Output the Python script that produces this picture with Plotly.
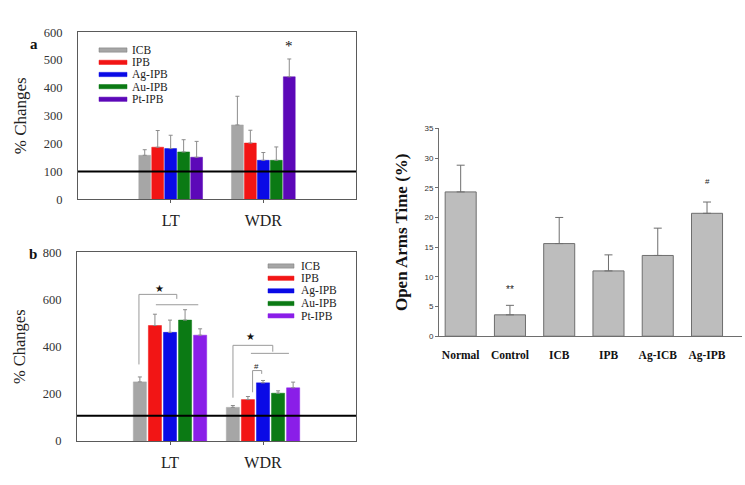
import plotly.graph_objects as go

W, H = 745, 485

# ---------------- data ----------------
groups = ["LT", "WDR"]
series = ["ICB", "IPB", "Ag-IPB", "Au-IPB", "Pt-IPB"]

# panel a (% changes)
a_ICB = [158, 267]
a_IPB = [187, 202]
a_Ag = [182, 140]
a_Au = [170, 140]
a_Pt = [151, 440]
a_ICB_err = [20, 103]
a_IPB_err = [60, 46]
a_Ag_err = [48, 28]
a_Au_err = [44, 48]
a_Pt_err = [57, 64]

# panel b (% changes)
b_ICB = [251, 143]
b_IPB = [490, 176]
b_Ag = [461, 247]
b_Au = [513, 203]
b_Pt = [449, 226]
b_ICB_err = [21, 8]
b_IPB_err = [48, 13]
b_Ag_err = [52, 10]
b_Au_err = [44, 10]
b_Pt_err = [27, 24]

# panel c (open arms time %)
c_groups = ["Normal", "Control", "ICB", "IPB", "Ag-ICB", "Ag-IPB"]
c_values = [24.3, 3.6, 15.6, 11.0, 13.6, 20.7]
c_errors = [4.5, 1.6, 4.4, 2.7, 4.6, 1.9]

a_ref = 100
b_ref = 107

# ---------------- styles ----------------
SERIF = "Liberation Serif"
SANS = "Liberation Sans"
cols_a = ["#a6a6a6", "#f21515", "#0a0ae6", "#0b7a14", "#5c08b8"]
cols_b = ["#a6a6a6", "#f21515", "#0a0ae6", "#0b7a14", "#8a1ee8"]


def px(x):
    return x / W


def py(y):
    return 1 - y / H


fig = go.Figure()

a_vals = [a_ICB, a_IPB, a_Ag, a_Au, a_Pt]
a_errs = [a_ICB_err, a_IPB_err, a_Ag_err, a_Au_err, a_Pt_err]
b_vals = [b_ICB, b_IPB, b_Ag, b_Au, b_Pt]
b_errs = [b_ICB_err, b_IPB_err, b_Ag_err, b_Au_err, b_Pt_err]

pitch_a, width_a = 0.14, 0.128
pitch_b, width_b = 0.162, 0.141

for i, name in enumerate(series):
    fig.add_trace(go.Bar(
        x=groups, y=a_vals[i], name=name, xaxis="x", yaxis="y",
        width=width_a, offset=(i - 2) * pitch_a - width_a / 2,
        marker=dict(color=cols_a[i], line=dict(color=cols_a[i], width=0.5)),
        error_y=dict(type="data", array=a_errs[i], arrayminus=[0, 0], symmetric=False,
                     color="#8c8c8c", thickness=1, width=2),
        showlegend=False))
    fig.add_trace(go.Bar(
        x=groups, y=b_vals[i], name=name, xaxis="x2", yaxis="y2",
        width=width_b, offset=(i - 2) * pitch_b - width_b / 2,
        marker=dict(color=cols_b[i], line=dict(color=cols_b[i], width=0.5)),
        error_y=dict(type="data", array=b_errs[i], arrayminus=[0, 0], symmetric=False,
                     color="#8c8c8c", thickness=1, width=2),
        showlegend=False))

fig.add_trace(go.Bar(
    x=c_groups, y=c_values, xaxis="x3", yaxis="y3", width=0.63, offset=-0.315,
    marker=dict(color="#bdbdbd", line=dict(color="#6e6e6e", width=1)),
    error_y=dict(type="data", array=c_errors, arrayminus=[0] * len(c_errors), symmetric=False,
                 color="#6e6e6e", thickness=1, width=4),
    showlegend=False))

frame_col = "#5a5a5a"
common_x = dict(type="category", range=[-1, 2], showline=True, mirror=True, linecolor=frame_col,
                linewidth=1, ticks="outside", ticklen=3, tickcolor=frame_col,
                tickfont=dict(family=SERIF, size=16, color="#222"), showgrid=False, zeroline=False,
                ticklabelstandoff=4)
common_y = dict(showline=True, mirror=True, linecolor=frame_col, linewidth=1, ticks="",
                tickfont=dict(family=SERIF, size=12.5, color="#333"), showgrid=False, zeroline=False,
                ticklabelstandoff=12)

fig.update_layout(
    width=W, height=H, margin=dict(l=0, r=0, t=0, b=0),
    paper_bgcolor="white", plot_bgcolor="white", barmode="overlay",
    xaxis=dict(common_x, domain=[px(78), px(356)], anchor="y"),
    yaxis=dict(common_y, domain=[py(198), py(26)], anchor="x", range=[0, 600], dtick=100,
               title=dict(text="% Changes", font=dict(family=SERIF, size=17, color="#222"), standoff=12)),
    xaxis2=dict(common_x, domain=[px(77), px(356)], anchor="y2"),
    yaxis2=dict(common_y, domain=[py(447), py(252.7)], anchor="x2", range=[0, 800], dtick=200,
                title=dict(text="% Changes", font=dict(family=SERIF, size=16.5, color="#222"), standoff=12)),
    xaxis3=dict(type="category", domain=[px(439), px(742)], anchor="y3", range=[-0.44, 5.71],
                showline=True, linecolor="#6e6e6e", linewidth=1, ticks="",
                tickfont=dict(family=SERIF, size=11.5, color="#111", weight="bold"),
                showgrid=False, zeroline=False, ticklabelstandoff=8),
    yaxis3=dict(domain=[py(339), py(125)], anchor="x3", range=[0, 35], dtick=5,
                showline=True, linecolor="#6e6e6e", linewidth=1, ticks="outside", ticklen=3,
                tickcolor="#6e6e6e", tickfont=dict(family=SANS, size=8, color="#333"),
                showgrid=False, zeroline=False,
                title=dict(text="<b>Open Arms Time (%)</b>",
                           font=dict(family=SERIF, size=17, color="#111"), standoff=12)),
)

shapes = []
annotations = []

# reference lines
shapes.append(dict(type="line", xref="x domain", yref="y", x0=0, x1=1, y0=a_ref, y1=a_ref,
                   line=dict(color="black", width=2)))
shapes.append(dict(type="line", xref="x2 domain", yref="y2", x0=0, x1=1, y0=b_ref, y1=b_ref,
                   line=dict(color="black", width=2)))

# custom legends
def legend(x0, x1, ys, xt, cols):
    for name, yc, c in zip(series, ys, cols):
        shapes.append(dict(type="rect", xref="paper", yref="paper", x0=px(x0), x1=px(x1),
                           y0=py(yc + 2.2), y1=py(yc - 2.2), fillcolor=c,
                           line=dict(color="#777" if c == cols[0] else c, width=0.5)))
        annotations.append(dict(xref="paper", yref="paper", x=px(xt), y=py(yc), text=name,
                                showarrow=False, xanchor="left", yanchor="middle",
                                font=dict(family=SERIF, size=11.5, color="#222")))

legend(99, 127, [44.3, 57.0, 69.5, 82.0, 95.0], 130, cols_a)
legend(268, 294, [266.7, 279.3, 292.3, 305.3, 318.0], 299, cols_b)

# panel letters
annotations.append(dict(xref="paper", yref="paper", x=px(28), y=py(28), text="<b>a</b>", showarrow=False,
                        font=dict(family=SERIF, size=15, color="#111")))
annotations.append(dict(xref="paper", yref="paper", x=px(27), y=py(254), text="<b>b</b>", showarrow=False,
                        font=dict(family=SERIF, size=15, color="#111")))

# significance marks
annotations.append(dict(xref="x", yref="y", x=1 + 2 * pitch_a, y=552, text="*", showarrow=False,
                        font=dict(family=SERIF, size=15, color="#111"), yanchor="middle"))
annotations.append(dict(xref="x3", yref="y3", x=1, y=7.9, text="**", showarrow=False,
                        font=dict(family=SANS, size=10, color="#222")))
annotations.append(dict(xref="x3", yref="y3", x=5, y=26.0, text="#", showarrow=False,
                        font=dict(family=SANS, size=8, color="#222")))

br_col = "#9a9a9a"
brackets = [
    ("M -0.334,325 L -0.334,622 L 0.073,622 L 0.073,603"),
    ("M -0.152,578 L 0.304,578"),
    ("M 0.677,184 L 0.677,406 L 1.105,406 L 1.105,379"),
    ("M 0.870,372 L 1.279,372"),
    ("M 0.888,207 L 0.888,299 L 0.986,299 L 0.986,285"),
]
for p in brackets:
    shapes.append(dict(type="path", xref="x2", yref="y2", path=p, line=dict(color=br_col, width=1)))
annotations.append(dict(xref="x2", yref="y2", x=-0.109, y=646, text="★", showarrow=False,
                        font=dict(family="DejaVu Sans", size=10, color="#111")))
annotations.append(dict(xref="x2", yref="y2", x=0.870, y=442, text="★", showarrow=False,
                        font=dict(family="DejaVu Sans", size=10, color="#111")))
annotations.append(dict(xref="x2", yref="y2", x=0.935, y=318, text="#", showarrow=False,
                        font=dict(family=SANS, size=8, color="#222")))

fig.update_layout(shapes=shapes, annotations=annotations)
fig.write_html("out.html", config={"displayModeBar": False},
               post_script="document.body.style.margin='0';document.body.style.overflow='hidden';")
